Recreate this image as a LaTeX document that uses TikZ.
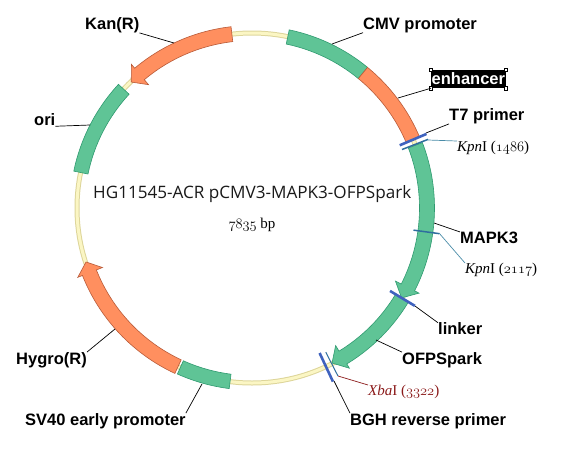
\documentclass[tikz,border=0pt]{standalone}
\usepackage{fontspec}
\newfontfamily\labfont{Liberation Sans}
\newfontfamily\titlefont{Open Sans}
\newfontfamily\sitefont{Liberation Serif}
\newcommand{\osnum}[1]{{\usefont{OML}{cmm}{m}{it}#1}}
\definecolor{gfill}{HTML}{5FC496}
\definecolor{gline}{HTML}{2F9A70}
\definecolor{ofill}{HTML}{FF8F5F}
\definecolor{oline}{HTML}{B85A38}
\definecolor{rfill}{HTML}{FBF6C4}
\definecolor{rline}{HTML}{DDD59A}
\definecolor{primer}{HTML}{3F62BE}
\definecolor{sitec}{HTML}{2F6E9E}
\definecolor{sitel}{HTML}{4A8CA8}
\definecolor{xbac}{HTML}{8B1A1A}
\newcommand{\arcband}[2]{(#1:182) arc[start angle=#1,end angle=#2,radius=182] -- (#2:167.5) arc[start angle=#2,end angle=#1,radius=167.5] -- cycle}
\newcommand{\arrowband}[3]{(#1:182.5) arc[start angle=#1,end angle=#2,radius=182.5] -- (#2:187.5) -- (#3:174.5) -- (#2:161) -- (#2:167.5) arc[start angle=#2,end angle=#1,radius=167.5] -- cycle}
\tikzset{
  lab/.style={font=\labfont\fontsize{16.5}{18}\selectfont\bfseries,inner sep=0pt,anchor=west},
  sitelab/.style={font=\sitefont\fontsize{15}{16}\selectfont,inner sep=0pt,anchor=west},
  gband/.style={fill=gfill,draw=gline,line width=0.6pt},
  oband/.style={fill=ofill,draw=oline,line width=0.6pt},
  leader/.style={draw=black,line width=0.7pt},
  handle/.style={draw=black,fill=white,line width=0.6pt,minimum size=3.5pt,inner sep=0pt},
}
\begin{document}
\begin{tikzpicture}[x=1pt,y=-1pt]
\useasboundingbox (0,0) rectangle (571,451);
\begin{scope}[shift={(252,208)},y=1pt]
  \draw[rline,line width=5pt] (0,0) circle[radius=175];
  \draw[rfill,line width=3pt] (0,0) circle[radius=175];
  \draw[gband] \arcband{78.2}{50.6};
  \draw[oband] \arcband{50.6}{23};
  \draw[gband] \arrowband{21}{-27}{-31};
  \draw[gband] \arrowband{-31}{-58.7}{-62.7};
  \draw[gband] \arcband{262.8}{245.8};
  \draw[oband] \arrowband{245}{201.7}{198};
  \draw[gband] \arcband{168.3}{137.2};
  \draw[oband] \arrowband{96.6}{130}{133.8};
  \draw[primer,line width=2.6pt] (23:160.5) -- (23:189.5);
  \draw[sitec,line width=1.5pt] (21.3:161) -- (21.3:189);
  \draw[sitec,line width=1.5pt] (-7.8:163) -- (-7.8:189);
  \draw[primer,line width=2.6pt] (-31:161) -- (-31:190);
  \draw[sitec,line width=1pt] (-62.9:162) -- (-62.9:188.7);
  \draw[primer,line width=2.6pt] (-65:160) -- (-65:191.5);
\end{scope}
\coordinate (cmvF) at (332,44);
\coordinate (enhF) at (398,98);
\coordinate (t7F) at (426,133);
\coordinate (kpnAF) at (428,140);
\coordinate (mapF) at (434,223);
\coordinate (kpnBF) at (439,233);
\coordinate (linkF) at (415,306);
\coordinate (ofpF) at (376,340);
\coordinate (xbaF) at (338,376);
\coordinate (bghF) at (334,381);
\coordinate (kanF) at (174,43);
\coordinate (oriF) at (90,125);
\coordinate (hygF) at (115,329);
\coordinate (svF) at (202,384);
\node[lab] (cmv) at (363,25) {CMV promoter};
\node[lab,fill=black,text=white,minimum height=18pt,inner xsep=0.5pt] (enh) at (431,79) {enhancer};
\node[handle] (h1) at (enh.north west) {};
\node[handle] (h2) at (enh.north east) {};
\node[handle] (h3) at (enh.south west) {};
\node[handle] (h4) at (enh.south east) {};
\node[lab] (t7) at (449,116) {T7 primer};
\node[sitelab] (kpnA) at (457,148) {\textit{Kpn}I (\osnum{1486})};
\node[lab] (map) at (460,238) {MAPK3};
\node[sitelab] (kpnB) at (465,270) {\textit{Kpn}I (\osnum{2117})};
\node[lab] (link) at (438,329) {linker};
\node[lab] (ofp) at (402,360) {OFPSpark};
\node[sitelab,text=xbac] (xba) at (368,392) {\textit{Xba}I (\osnum{3322})};
\node[lab] (bgh) at (350,421) {BGH reverse primer};
\node[lab] (kan) at (85,25) {Kan(R)};
\node[lab] (ori) at (34,120) {ori};
\node[lab] (hyg) at (16,360) {Hygro(R)};
\node[lab] (sv) at (25,421) {SV40 early promoter};
\node[font=\titlefont\fontsize{17.1}{20}\selectfont,text=black!90,inner sep=0pt,anchor=west] (title) at (93,194) {HG11545-ACR pCMV3-MAPK3-OFPSpark};
\node[font=\sitefont\fontsize{15}{16}\selectfont,inner sep=0pt] (size) at (252,225) {\osnum{7835} bp};
\draw[leader] (cmvF) -- (cmv.south west);
\draw[leader] (enhF) -- (enh.south west);
\draw[leader] (t7F) -- (t7.south west);
\draw[sitel,line width=0.7pt] (kpnAF) -- (kpnA.north west);
\draw[leader] (mapF) -- (map.north west);
\draw[sitel,line width=0.7pt] (kpnBF) -- (kpnB.north west);
\draw[leader] (linkF) -- (link.north west);
\draw[leader] (ofpF) -- (ofp.north west);
\draw[xbac,line width=0.7pt] (xbaF) -- (xba.north west);
\draw[leader] (bghF) -- (bgh.north west);
\draw[leader] (kanF) -- (kan.south east);
\draw[leader] (oriF) -- (ori.south east);
\draw[leader] (hygF) -- (hyg.north east);
\draw[leader] (svF) -- (sv.north east);
\end{tikzpicture}
\end{document}
